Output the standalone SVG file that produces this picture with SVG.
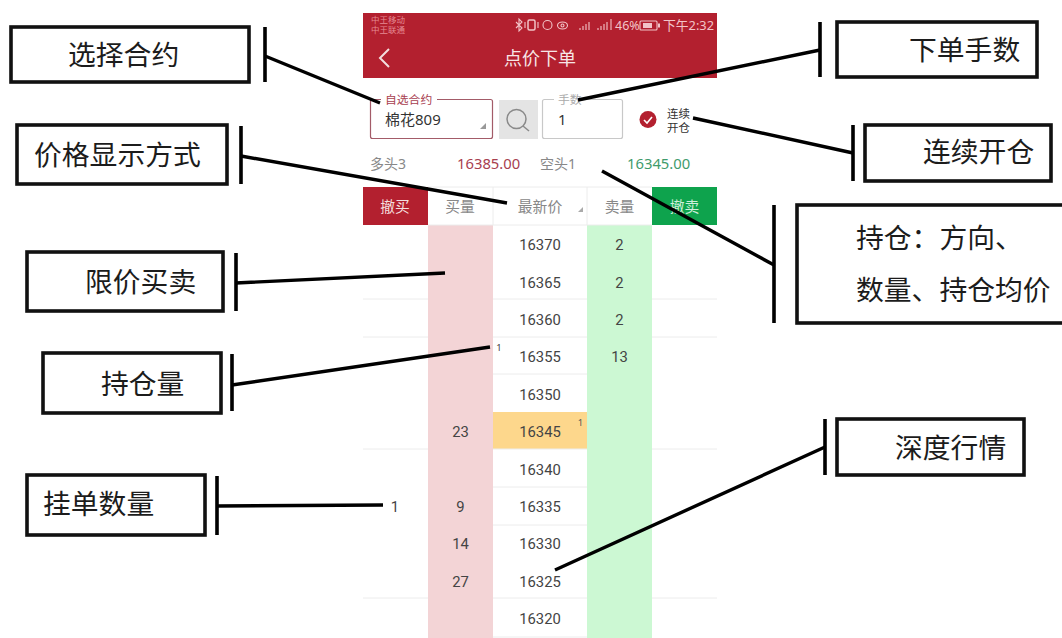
<svg xmlns="http://www.w3.org/2000/svg" width="1062" height="638" viewBox="0 0 1062 638">
<style>
text{font-family:"Noto Sans","Noto Sans CJK SC",sans-serif}
.lab{font-family:"Noto Sans CJK SC",sans-serif;font-size:27.8px;fill:#1c1c1c}
.box{fill:#fff;stroke:#111;stroke-width:3.6}
.bar{stroke:#000;stroke-width:3.6}
.con{stroke:#000;stroke-width:3.4;fill:none}
.p{font-family:Roboto,sans-serif;font-size:14.8px;fill:#444;text-anchor:middle}
.g{stroke:#ececec;stroke-width:1}
</style>
<rect width="1062" height="638" fill="#fff"/>
<g id="phone">
<rect x="363" y="13" width="354" height="65" fill="#b3202f"/>
<g font-family="Noto Sans CJK SC" fill="#e58a92" font-size="8.500"><text x="371" y="23">中王移动</text><text x="371" y="33">中王联通</text></g>
<g id="status-icons" fill="none" stroke="#f2c4c8" stroke-width="1.100">
<path d="M516 22l6 6-3 3v-12l3 3-6 6"/>
<rect x="528" y="20" width="7" height="10" rx="1.500" stroke-width="1.500"/>
<path d="M525 22v6M538 22v6"/>
<circle cx="547.500" cy="25" r="4.500"/>
<ellipse cx="562.500" cy="25.500" rx="5" ry="3.500"/>
<circle cx="562.500" cy="25.500" r="1.500"/>
<path d="M580 30v-2M583 30v-4M586 30v-6M589 30v-8M598 30v-2M601 30v-4M604 30v-6M607 30v-8M611 30v-11"/>
<rect x="640" y="21" width="17" height="9" rx="1"/>
<path d="M659 23.500v4" stroke-width="2"/>
<path d="M643 23h9v5h-9z" fill="#f2c4c8" stroke="none"/>
</g>
<text x="615" y="30" font-family="Roboto" font-size="12.500" fill="#f2c4c8">46%</text>
<text x="663" y="30" font-family="Noto Sans CJK SC" font-size="12.800" fill="#f2c4c8">下午2:32</text>
<path d="M389 49l-9 9 9 9" fill="none" stroke="#f3dede" stroke-width="2"/>
<text x="540" y="65" font-family="Noto Sans CJK SC" font-size="18" fill="#f7e6e6" text-anchor="middle">点价下单</text>
<rect x="370.500" y="99.500" width="122" height="39" rx="2" fill="#fff" stroke="#a35b68" stroke-width="1.200"/>
<rect x="381" y="94" width="56" height="10" fill="#fff"/>
<text x="385" y="104" font-family="Noto Sans CJK SC" font-size="11.800" fill="#a8404f">自选合约</text>
<text x="385" y="125" font-family="Noto Sans CJK SC" font-size="15" fill="#333">棉花809</text>
<path d="M486 129v-6l-6 6z" fill="#999"/>
<rect x="499" y="100" width="39" height="39" fill="#e4e4e4"/>
<circle cx="516.500" cy="119" r="9.500" fill="none" stroke="#8a8a8a" stroke-width="1.500"/>
<path d="M523 126l6 5" stroke="#8a8a8a" stroke-width="1.500"/>
<rect x="542.500" y="99.500" width="80" height="39" rx="2" fill="#fff" stroke="#c8c8c8" stroke-width="1.200"/>
<rect x="554" y="94" width="30" height="10" fill="#fff"/>
<text x="558" y="104" font-family="Noto Sans CJK SC" font-size="11.800" fill="#aaa">手数</text>
<text x="558" y="125" font-family="Roboto" font-size="14.800" fill="#333">1</text>
<circle cx="648" cy="119.500" r="8.500" fill="#b3202f"/>
<path d="M644 120l3 3 5-6" fill="none" stroke="#fff" stroke-width="1.600"/>
<g font-family="Noto Sans CJK SC" font-size="11.500" fill="#333"><text x="667" y="118">连续</text><text x="667" y="132">开仓</text></g>
<text x="370" y="169" font-family="Noto Sans CJK SC" font-size="14" fill="#888">多头3</text>
<text x="457" y="169" font-family="Roboto" font-size="14.800" fill="#a8404f">16385.00</text>
<text x="540" y="169" font-family="Noto Sans CJK SC" font-size="14" fill="#888">空头1</text>
<text x="627" y="169" font-family="Roboto" font-size="14.800" fill="#3f9b6c">16345.00</text>
<rect x="428" y="225" width="65" height="413" fill="#f3d4d6"/>
<rect x="587" y="225" width="65" height="413" fill="#ccf8d3"/>
<rect x="493" y="412" width="94" height="37" fill="#fdd78c"/>
<rect x="363" y="187" width="65" height="38" fill="#b3202f"/>
<rect x="652" y="187" width="65" height="38" fill="#0ea34d"/>
<path class="g" d="M428 187h224M493 187v38M587 187v38M428 225h224M363 299h65M493 299h94M652 299h65M363 337h65M493 337h94M652 337h65M493 374h94M363 449h65M493 449h94M652 449h65M493 487h94M493 525h94M363 598h65M493 598h94M652 598h65M493 637h94"/>
<g font-family="Noto Sans CJK SC" font-size="14.800" text-anchor="middle">
<text x="395" y="212" fill="#f3dede">撤买</text><text x="460" y="212" fill="#888">买量</text><text x="540" y="212" fill="#888">最新价</text><text x="619.500" y="212" fill="#888">卖量</text><text x="684.500" y="212" fill="#cfeeda">撤卖</text>
</g>
<path d="M583 212v-5l-5 5z" fill="#aaa"/>
<g>
<text class="p" x="540" y="249.500">16370</text><text class="p" x="540" y="287.500">16365</text><text class="p" x="540" y="324.500">16360</text><text class="p" x="540" y="361.500">16355</text><text class="p" x="540" y="399.500">16350</text><text class="p" x="540" y="436.500">16345</text><text class="p" x="540" y="474.500">16340</text><text class="p" x="540" y="511.500">16335</text><text class="p" x="540" y="548.500">16330</text><text class="p" x="540" y="586.500">16325</text><text class="p" x="540" y="623.500">16320</text>
<text class="p" x="619.500" y="249.500">2</text><text class="p" x="619.500" y="287.500">2</text><text class="p" x="619.500" y="324.500">2</text><text class="p" x="619.500" y="361.500">13</text>
<text class="p" x="460.500" y="436.500">23</text><text class="p" x="460.500" y="511.500">9</text><text class="p" x="460.500" y="548.500">14</text><text class="p" x="460.500" y="586.500">27</text>
<text class="p" x="395" y="511.500">1</text>
<text x="499" y="351" font-family="Roboto" font-size="9.500" fill="#444" text-anchor="middle">1</text>
<text x="580.500" y="426" font-family="Roboto" font-size="9.500" fill="#555" text-anchor="middle">1</text>
</g>
</g>
<g id="connectors">
<path class="con" d="M265 56L380 103M241 156L507 203M236 283L445 273M232 385L490 347M217 506L383 505M820 50L578 100M853 153L693 118M774 265L602 171M825 447L555 570"/>
<path class="bar" d="M265 27V82M241 126V184M236 253V311M232 354V411M217 476V535M820 22V77M853 125V181M774 205V323M825 419V475"/>
</g>
<g id="n-select"><rect class="box" x="11" y="27" width="238" height="55"/><text class="lab" x="68" y="65">选择合约</text></g>
<g id="n-price"><rect class="box" x="17" y="125" width="210" height="59"/><text class="lab" x="34" y="165">价格显示方式</text></g>
<g id="n-limit"><rect class="box" x="27" y="252" width="196" height="59"/><text class="lab" x="85" y="292">限价买卖</text></g>
<g id="n-hold"><rect class="box" x="43" y="353" width="178" height="60"/><text class="lab" x="101" y="394">持仓量</text></g>
<g id="n-orders"><rect class="box" x="27" y="475" width="178" height="60"/><text class="lab" x="43" y="514">挂单数量</text></g>
<g id="n-qty"><rect class="box" x="837" y="22" width="200" height="55"/><text class="lab" x="909" y="60">下单手数</text></g>
<g id="n-open"><rect class="box" x="865" y="125" width="186" height="56"/><text class="lab" x="923" y="162">连续开仓</text></g>
<g id="n-pos"><rect class="box" x="797" y="205" width="270" height="118"/><text class="lab" x="856" y="248">持仓：方向、</text><text class="lab" x="856" y="300">数量、持仓均价</text></g>
<g id="n-depth"><rect class="box" x="837" y="419" width="187" height="56"/><text class="lab" x="895" y="458">深度行情</text></g>
</svg>
